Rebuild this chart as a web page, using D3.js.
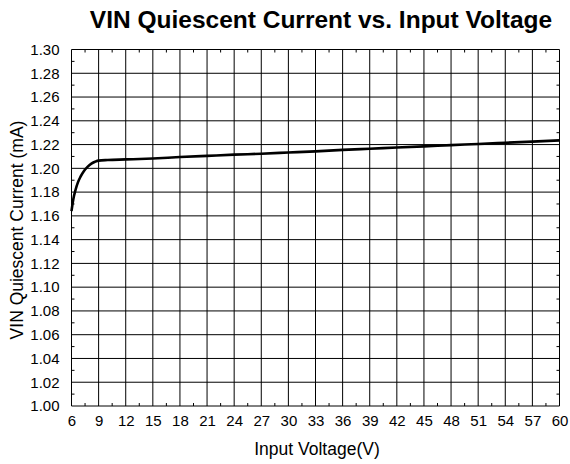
<!DOCTYPE html>
<html>
<head>
<meta charset="utf-8">
<script src="https://cdn.jsdelivr.net/npm/d3@7/dist/d3.min.js"></script>
<style>
  html, body { margin: 0; padding: 0; background: #fff; }
  svg { display: block; font-family: "Liberation Sans", Arial, sans-serif; }
</style>
</head>
<body>
<svg id="chart" width="570" height="464"></svg>
<script>
// ---- Data ----
const voltage = [6, 6.2, 6.45, 6.7, 7.0, 7.4, 7.8, 8.2, 8.6, 9.0, 10, 12, 15, 18, 21, 24, 27, 30, 33, 36, 39, 42, 45, 48, 51, 54, 57, 60];
const current = [1.164, 1.174, 1.182, 1.188, 1.193, 1.198, 1.2015, 1.204, 1.2055, 1.2065, 1.207, 1.2075, 1.2083, 1.2095, 1.2105, 1.2115, 1.2123, 1.2133, 1.2143, 1.2155, 1.2165, 1.2175, 1.2185, 1.2195, 1.2205, 1.2215, 1.2225, 1.2235];
const xTicks = [6, 9, 12, 15, 18, 21, 24, 27, 30, 33, 36, 39, 42, 45, 48, 51, 54, 57, 60];
const yTicks = [1.00, 1.02, 1.04, 1.06, 1.08, 1.10, 1.12, 1.14, 1.16, 1.18, 1.20, 1.22, 1.24, 1.26, 1.28, 1.30];
const title = "VIN Quiescent Current vs. Input Voltage";
const xLabel = "Input Voltage(V)";
const yLabel = "VIN Quiescent Current (mA)";

// ---- Layout ----
const svg = d3.select("#chart");
const m = { left: 71.5, top: 49.5, right: 559.5, bottom: 406 };
const x = d3.scaleLinear().domain([6, 60]).range([m.left, m.right]);
const y = d3.scaleLinear().domain([1.0, 1.3]).range([m.bottom, m.top]);

// title
svg.append("text")
  .attr("x", 321).attr("y", 28)
  .attr("text-anchor", "middle")
  .attr("font-size", 24.5).attr("font-weight", "bold")
  .text(title);

// gridlines
const g = svg.append("g");
g.selectAll("line.vx").data(xTicks).enter().append("line")
  .attr("x1", d => x(d)).attr("x2", d => x(d))
  .attr("y1", m.top).attr("y2", m.bottom)
  .attr("stroke", "#000").attr("stroke-width", 1);
g.selectAll("line.hy").data(yTicks).enter().append("line")
  .attr("y1", d => y(d)).attr("y2", d => y(d))
  .attr("x1", m.left).attr("x2", m.right)
  .attr("stroke", "#000").attr("stroke-width", 1);

// minor ticks (inside) at half intervals
const xMinor = xTicks.slice(0, -1).map(d => d + 1.5);
const yMinor = yTicks.slice(0, -1).map(d => d + 0.01);
g.selectAll("line.mxb").data(xMinor).enter().append("line")
  .attr("x1", d => x(d)).attr("x2", d => x(d))
  .attr("y1", m.bottom).attr("y2", m.bottom - 3)
  .attr("stroke", "#000");
g.selectAll("line.mxt").data(xMinor).enter().append("line")
  .attr("x1", d => x(d)).attr("x2", d => x(d))
  .attr("y1", m.top).attr("y2", m.top + 3)
  .attr("stroke", "#000");
g.selectAll("line.myl").data(yMinor).enter().append("line")
  .attr("y1", d => y(d)).attr("y2", d => y(d))
  .attr("x1", m.left).attr("x2", m.left + 3)
  .attr("stroke", "#000");
g.selectAll("line.myr").data(yMinor).enter().append("line")
  .attr("y1", d => y(d)).attr("y2", d => y(d))
  .attr("x1", m.right).attr("x2", m.right - 3)
  .attr("stroke", "#000");

// axes labels via d3 axes (no domain / tick lines)
const xAxis = svg.append("g")
  .attr("transform", `translate(0,${m.bottom})`)
  .call(d3.axisBottom(x).tickValues(xTicks).tickFormat(d3.format("d")).tickSize(0).tickPadding(9));
xAxis.select(".domain").remove();
xAxis.selectAll("text").attr("font-size", 15).attr("fill", "#000").attr("font-family", "Liberation Sans, Arial, sans-serif");

const yAxis = svg.append("g")
  .attr("transform", `translate(${m.left},0)`)
  .call(d3.axisLeft(y).tickValues(yTicks).tickFormat(d3.format(".2f")).tickSize(0).tickPadding(12));
yAxis.select(".domain").remove();
yAxis.selectAll("text").attr("font-size", 15).attr("fill", "#000").attr("font-family", "Liberation Sans, Arial, sans-serif");

// axis titles
svg.append("text")
  .attr("x", 317).attr("y", 455)
  .attr("text-anchor", "middle").attr("font-size", 17.5)
  .text(xLabel);
svg.append("text")
  .attr("transform", `translate(23,230) rotate(-90)`)
  .attr("text-anchor", "middle").attr("font-size", 17.5)
  .text(yLabel);

// curve
const line = d3.line().x((d, i) => x(voltage[i])).y(d => y(d)).curve(d3.curveMonotoneX);
svg.append("path")
  .datum(current)
  .attr("d", line)
  .attr("fill", "none").attr("stroke", "#000").attr("stroke-width", 2.6)
  .attr("stroke-linejoin", "round");
</script>
</body>
</html>
